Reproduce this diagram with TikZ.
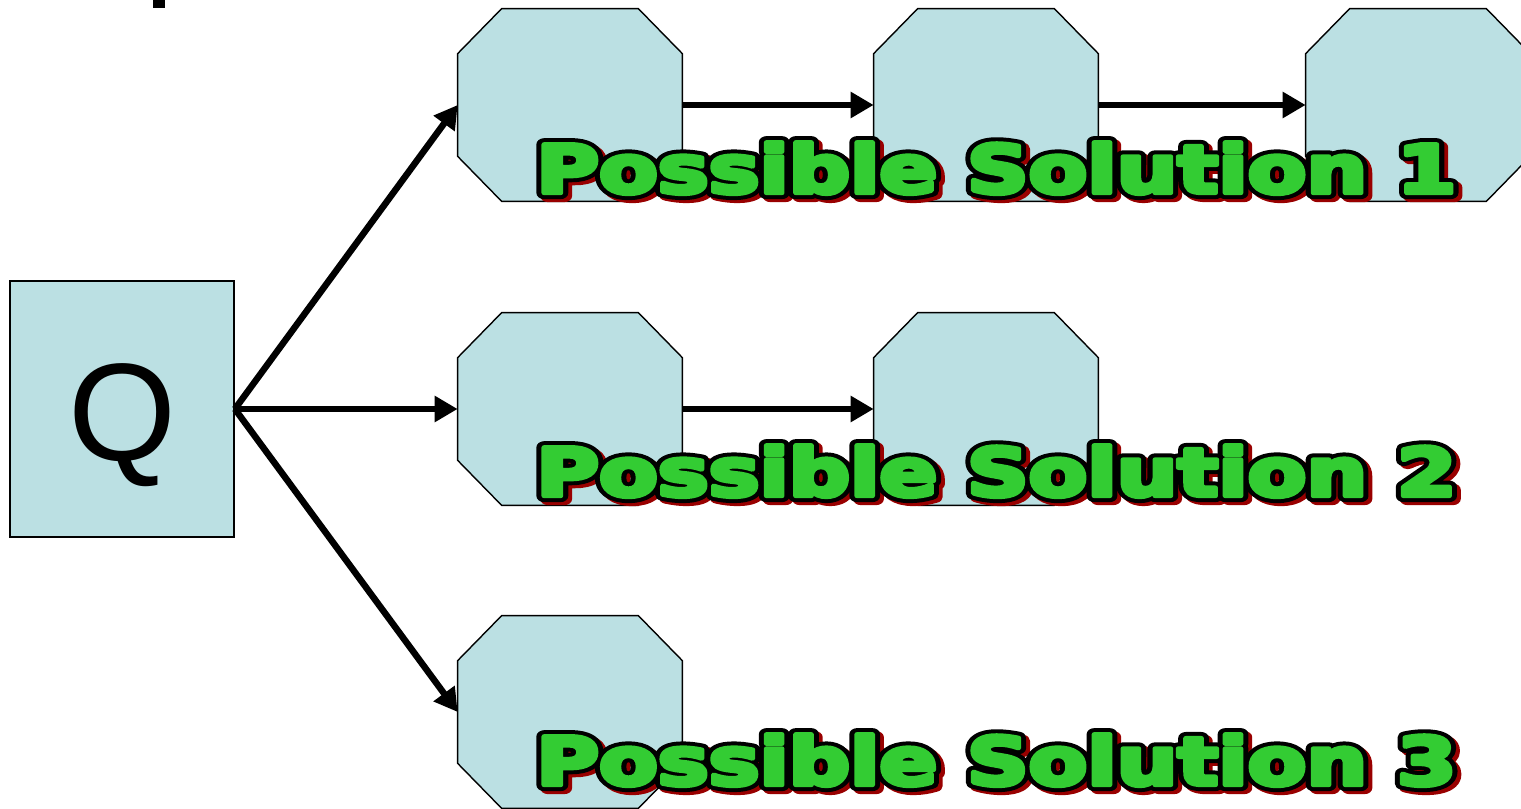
\documentclass[tikz,border=0pt]{standalone}
\usepackage{fontspec}
\usepackage{xcolor}
\usepackage{tikz}
\usetikzlibrary{arrows.meta, positioning}

\newfontfamily\qfont{Liberation Sans}
\newfontfamily\solfont{DejaVu Sans}

\definecolor{boxblue}{HTML}{BBE0E3}
\definecolor{solgreen}{HTML}{33CC33}
\definecolor{shadowred}{HTML}{990000}

% outlined label with a drop shadow
\newcommand{\solutiontext}[1]{%
	\rlap{\hspace{1.7pt}\raisebox{-1.7pt}{\color{shadowred}\special{pdf:literal direct 1 j 7 w 2 Tr}#1\special{pdf:literal direct 0 Tr}}}%
	\rlap{\color{black}\special{pdf:literal direct 1 j 7 w 2 Tr}#1\special{pdf:literal direct 0 Tr}}%
	{\color{solgreen}\special{pdf:literal direct 1 j 2.5 w 2 Tr}#1\special{pdf:literal direct 0 Tr}}}

\begin{document}
\begin{tikzpicture}[auto, >=latex]
		\tikzstyle{question} = [draw=black, line width=1pt, fill=boxblue, minimum width=4.48cm, minimum height=5.12cm, inner sep=0pt, text height=59pt, text depth=0pt, font=\qfont\fontsize{79}{84}\selectfont]
		\tikzstyle{octo} = [minimum width=4.48cm, minimum height=3.84cm, inner sep=0pt,
			append after command={\pgfextra{\let\octnode=\tikzlastnode
				\draw[line width=0.8pt, fill=boxblue]
				([xshift=0.88cm]\octnode.north west) -- ([xshift=-0.88cm]\octnode.north east)
				-- ([yshift=-0.9cm]\octnode.north east) -- ([yshift=0.9cm]\octnode.south east)
				-- ([xshift=-0.88cm]\octnode.south east) -- ([xshift=0.88cm]\octnode.south west)
				-- ([yshift=0.9cm]\octnode.south west) -- ([yshift=-0.9cm]\octnode.north west) -- cycle;}}]
		\tikzstyle{arrow} = [line width=3.7pt, -{Triangle[length=0.46cm, width=0.5cm]}]
		\tikzstyle{soltext} = [anchor=base west, inner sep=0pt, xscale=1.28, transform shape, font=\solfont\bfseries\fontsize{38}{42}\selectfont]
		
		\useasboundingbox (0, 0) rectangle (30.42, 16.16);
		\fill (3.06, 16.0) rectangle (3.30, 16.16);
		
		\node[question]	at (2.44, 7.98)		(q)		{Q};
		\node[octo]		at (11.4, 14.06)	(a1)	{};
		\node[octo]		at (19.72, 14.06)	(b1)	{};
		\node[octo]		at (28.36, 14.06)	(c1)	{};
		\node[octo]		at (11.4, 7.98)		(a2)	{};
		\node[octo]		at (19.72, 7.98)	(b2)	{};
		\node[octo]		at (11.4, 1.92)		(a3)	{};
		
		\path[arrow]
		(q.east)	edge	(a1.west)
		(q.east)	edge	(a2.west)
		(q.east)	edge	(a3.west)
		(a1)		edge	(b1)
		(b1)		edge	(c1)
		(a2)		edge	(b2);
		
		\node[soltext]	at (10.72, 12.30)	(s1)	{\solutiontext{Possible Solution 1}};
		\node[soltext]	at (10.72, 6.24)	(s2)	{\solutiontext{Possible Solution 2}};
		\node[soltext]	at (10.72, 0.46)	(s3)	{\solutiontext{Possible Solution 3}};
	\end{tikzpicture}
\end{document}
